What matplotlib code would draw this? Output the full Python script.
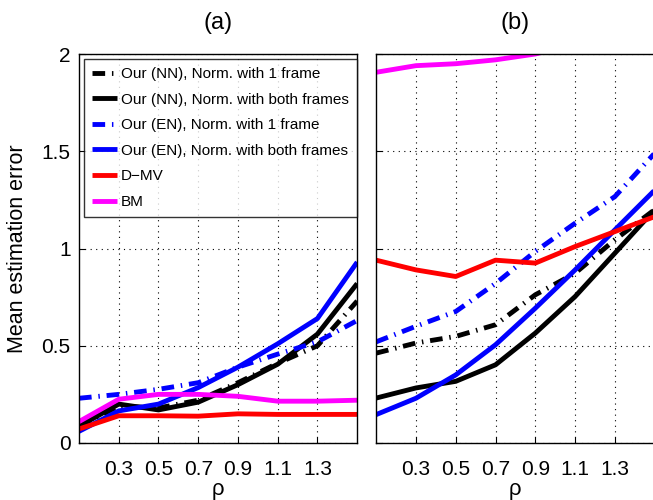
import matplotlib
matplotlib.use("Agg")
import matplotlib.pyplot as plt

plt.rcParams['font.family'] = ['Liberation Sans', 'DejaVu Sans']

rho = [0.1, 0.3, 0.5, 0.7, 0.9, 1.1, 1.3, 1.5]
xticks = [0.3, 0.5, 0.7, 0.9, 1.1, 1.3]
xticklabels = ['0.3', '0.5', '0.7', '0.9', '1.1', '1.3']
yticks = [0, 0.5, 1, 1.5, 2]
yticklabels = ['0', '0.5', '1', '1.5', '2']

labels = ['Our (NN), Norm. with 1 frame', 'Our (NN), Norm. with both frames',
          'Our (EN), Norm. with 1 frame', 'Our (EN), Norm. with both frames',
          'D\u2212MV', 'BM']

# Panel (a)
a_nn1 = [0.086, 0.19, 0.18, 0.22, 0.31, 0.41, 0.50, 0.73]
a_nnb = [0.086, 0.20, 0.17, 0.21, 0.30, 0.405, 0.56, 0.82]
a_en1 = [0.23, 0.25, 0.276, 0.31, 0.39, 0.457, 0.52, 0.63]
a_enb = [0.06, 0.165, 0.20, 0.285, 0.39, 0.51, 0.64, 0.93]
a_dmv = [0.072, 0.14, 0.14, 0.138, 0.15, 0.147, 0.147, 0.147]
a_bm = [0.11, 0.225, 0.25, 0.25, 0.24, 0.215, 0.215, 0.22]

# Panel (b)
b_nn1 = [0.462, 0.514, 0.548, 0.608, 0.762, 0.873, 1.045, 1.20]
b_nnb = [0.231, 0.283, 0.317, 0.402, 0.565, 0.753, 0.976, 1.20]
b_en1 = [0.52, 0.60, 0.676, 0.82, 0.985, 1.13, 1.267, 1.49]
b_enb = [0.146, 0.23, 0.35, 0.505, 0.693, 0.89, 1.096, 1.30]
b_dmv = [0.94, 0.89, 0.856, 0.94, 0.925, 1.01, 1.087, 1.164]
b_bm = [1.906, 1.94, 1.95, 1.97, 2.0, 2.05, 2.1, 2.15]

dashdot = (0, (2.6, 1.4, 0.3, 1.4))
styles = [('k', dashdot), ('k', '-'), ('#0000ff', dashdot), ('#0000ff', '-'),
          ('#ff0000', '-'), ('#ff00ff', '-')]

fig = plt.figure(figsize=(6.53, 5.0), dpi=100)
axa = fig.add_axes([0.121, 0.114, 0.426, 0.778])
axb = fig.add_axes([0.576, 0.114, 0.4266, 0.778])

for ax, series, title in [(axa, [a_nn1, a_nnb, a_en1, a_enb, a_dmv, a_bm], '(a)'),
                          (axb, [b_nn1, b_nnb, b_en1, b_enb, b_dmv, b_bm], '(b)')]:
    for s, (c, ls), lab in zip(series, styles, labels):
        ax.plot(rho, s, color=c, linestyle=ls, linewidth=3.5, label=lab,
                solid_capstyle='butt', dash_capstyle='butt')
    ax.set_xlim(0.1, 1.5)
    ax.set_ylim(0, 2)
    ax.set_xticks(xticks)
    ax.set_xticklabels(xticklabels)
    ax.set_yticks(yticks)
    ax.grid(True, color='k', linestyle=(0, (1, 4)), linewidth=0.8)
    ax.tick_params(direction='in', length=4, labelsize=15, pad=12, width=0.8)
    ax.tick_params(axis='y', pad=6)
    for sp in ax.spines.values():
        sp.set_linewidth(1.0)
    ax.set_title(title, fontsize=17, pad=18)
    ax.set_xlabel('\u03c1', fontsize=16, labelpad=0)

axa.set_yticklabels(yticklabels)
axb.set_yticklabels([])
axa.set_ylabel('Mean estimation error', fontsize=15.5, labelpad=10)

leg = axa.legend(loc='upper left', fontsize=11, frameon=True, fancybox=False,
                 edgecolor='k', handlelength=1.65, handletextpad=0.25,
                 borderaxespad=0.35, labelspacing=0.76, borderpad=0.5)
leg.get_frame().set_linewidth(1.0)

fig.savefig('out.png', dpi=100)
